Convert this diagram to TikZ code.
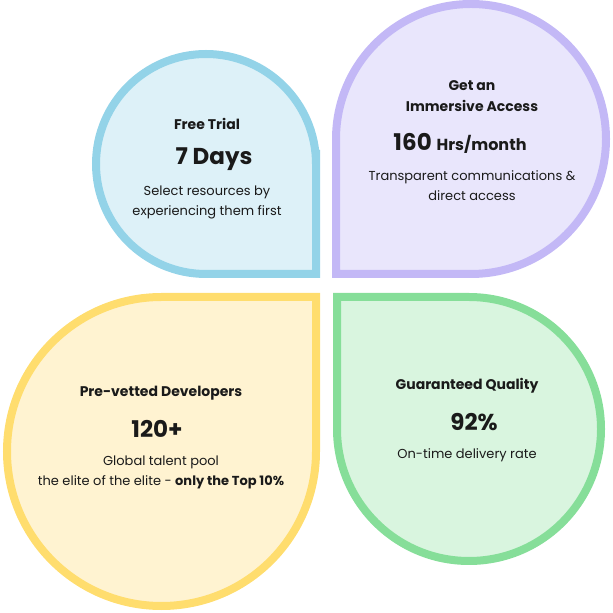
\documentclass[tikz,border=0pt]{standalone}
\usepackage{fontspec}
\setmainfont{Poppins}
\definecolor{blueLine}{HTML}{93D3E8}
\definecolor{blueFill}{HTML}{DDF1F8}
\definecolor{purpleLine}{HTML}{C3B8F6}
\definecolor{purpleFill}{HTML}{E9E6FC}
\definecolor{yellowLine}{HTML}{FFDD6E}
\definecolor{yellowFill}{HTML}{FFF3D1}
\definecolor{greenLine}{HTML}{86DE99}
\definecolor{greenFill}{HTML}{D9F5DF}
\definecolor{textDark}{HTML}{1A1A1A}
\tikzset{
  petal/.style={line width=8pt, line join=miter},
  head/.style={font=\fontsize{14}{16}\selectfont\bfseries, text=textDark},
  big/.style={font=\fontsize{23}{26}\selectfont\bfseries, text=textDark},
  body/.style={font=\fontsize{13}{20}\selectfont, text=textDark, align=center}
}
\begin{document}
\begin{tikzpicture}[x=1pt, y=1pt]
\useasboundingbox (0,0) rectangle (613,613);

% petals
\draw[petal, draw=blueLine, fill=blueFill]
  (316,463) -- (316,339) -- (206,339) arc[start angle=270, end angle=0, radius=110] -- cycle;
\draw[petal, draw=purpleLine, fill=purpleFill]
  (336,470) -- (336,339) -- (471,339) arc[start angle=270, end angle=540, radius=135] -- cycle;
\draw[petal, draw=yellowLine, fill=yellowFill]
  (161.5,316) -- (316,316) -- (316,161.5) arc[start angle=0, end angle=-270, radius=154.5] -- cycle;
\draw[petal, draw=greenLine, fill=greenFill]
  (337,184) -- (337,316) -- (469,316) arc[start angle=90, end angle=-180, radius=132] -- cycle;

% free trial
\node[head] (trialHead) at (207,489) {Free Trial};
\node[big] (trialNum) at (214,454) {7 Days};
\node[body] (trialText) at (207,411) {Select resources by\\experiencing them first};

% immersive access
\node[head, align=center, font=\fontsize{14}{21}\selectfont\bfseries] (accessHead) at (472,517) {Get an\\Immersive Access};
\node[big] (accessNum) at (460,470) {160 {\fontsize{16}{18}\selectfont Hrs/month}};
\node[body] (accessText) at (472,427) {Transparent communications \&\\direct access};

% developers
\node[head] (devHead) at (161,220) {Pre-vetted Developers};
\node[big] (devNum) at (157,184) {120+};
\node[body] (devText) at (161,141) {Global talent pool\\the elite of the elite - \textbf{only the Top 10\%}};

% quality
\node[head] (qualHead) at (467,227) {Guaranteed Quality};
\node[big] (qualNum) at (474,191) {92\%};
\node[body] (qualText) at (467,158) {On-time delivery rate};

\end{tikzpicture}
\end{document}
